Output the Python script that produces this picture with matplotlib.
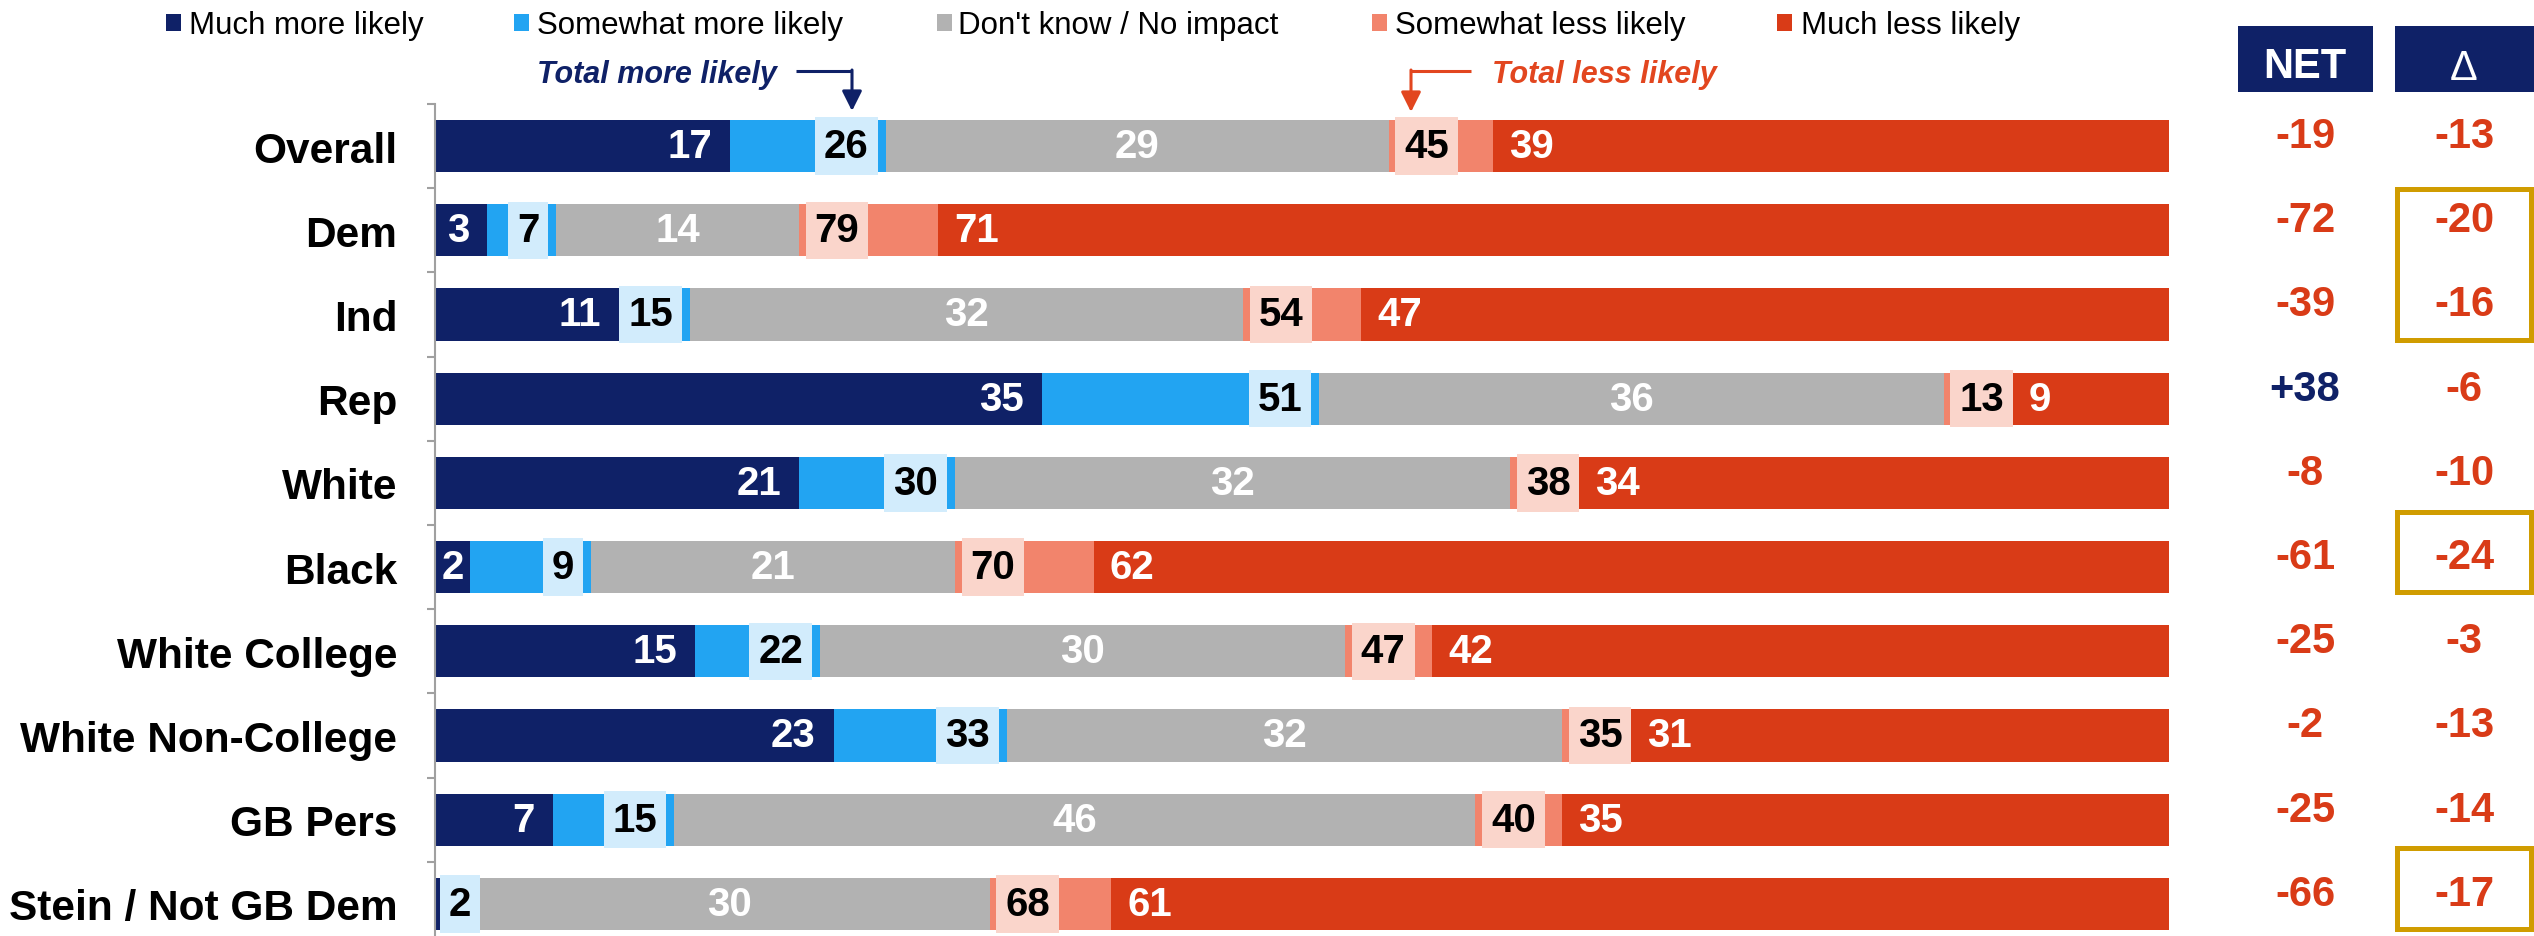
import matplotlib
matplotlib.use("Agg")
import matplotlib.pyplot as plt
from matplotlib.patches import Rectangle, FancyArrowPatch
from matplotlib.transforms import blended_transform_factory
import numpy as np

plt.rcParams['font.family'] = ['Liberation Sans', 'DejaVu Sans']

# ---------------- data ----------------
categories = ["Overall", "Dem", "Ind", "Rep", "White", "Black", "White College",
              "White Non-College", "GB Pers", "Stein / Not GB Dem"]
much_more = [17, 3, 10.6, 35, 21, 2, 15, 23, 6.8, 0.4]
somewhat_more = [9, 4, 4.1, 16, 9, 7, 7.2, 10, 7.0, 1.6]
dont_know = [29, 14, 31.9, 36, 32, 21, 30.3, 32, 46.2, 30]
somewhat_less = [6, 8, 6.8, 4, 4, 8, 5.0, 4, 5.0, 7]
much_less = [39, 71, 46.6, 9, 34, 62, 42.5, 31, 35.0, 61]
total_more = [26, 7, 15, 51, 30, 9, 22, 33, 15, 2]
total_less = [45, 79, 54, 13, 38, 70, 47, 35, 40, 68]
net = [-19, -72, -39, 38, -8, -61, -25, -2, -25, -66]
delta = [-13, -20, -16, -6, -10, -24, -3, -13, -14, -17]
highlight_groups = [(1, 2), (5, 5), (9, 9)]
legend_labels = ["Much more likely", "Somewhat more likely", "Don't know / No impact",
                 "Somewhat less likely", "Much less likely"]

# ---------------- style ----------------
NAVY = '#0F2167'
SKY = '#22A4F2'
GRAY = '#B2B2B2'
SALMON = '#F2846C'
RED = '#D93B17'
BOX_BLUE = '#D2ECFC'
BOX_PINK = '#FAD5CB'
GOLD = '#D09C00'
ANN_RED = '#E2461F'
colors = [NAVY, SKY, GRAY, SALMON, RED]

W, H = 2534, 937
fig = plt.figure(figsize=(W / 100, H / 100), dpi=100)


def fx(px):
    return px / W


def fy(py):
    return 1 - py / H


AX_L, AX_R, AX_T, AX_B = 435, 2169, 105, 947
ax = fig.add_axes([fx(AX_L), fy(AX_B), fx(AX_R) - fx(AX_L), (AX_B - AX_T) / H])
ax.set_xlim(0, 100)
n = len(categories)
ax.set_ylim(n - 0.5, -0.5)
rows = np.arange(n)
PXX = (AX_R - AX_L) / 100.0      # pixels per x unit
PXY = (AX_B - AX_T) / n          # pixels per row

series = [much_more, somewhat_more, dont_know, somewhat_less, much_less]
left = np.zeros(n)
for vals, c in zip(series, colors):
    v = np.array(vals, dtype=float)
    ax.barh(rows, v, left=left, height=0.62, color=c, zorder=2, linewidth=0)
    left += v

mm = np.array(much_more, float)
sm = np.array(somewhat_more, float)
dk = np.array(dont_know, float)
sl = np.array(somewhat_less, float)
ml = np.array(much_less, float)
end_more = mm + sm
start_less = end_more + dk
start_ml = start_less + sl

VFS = 29
em_px = VFS / 72 * 100
PAD = 9
BOX_H = 0.68
for i in range(n):
    # much more label
    if mm[i] >= 1.5:
        seg_px = mm[i] * PXX
        if seg_px < 50:
            ax.text(mm[i] / 2, i, f"{int(round(mm[i]))}", ha='center', va='center',
                    color='white', fontsize=VFS, fontweight='bold', zorder=5)
        else:
            ax.text(mm[i] - 18 / PXX, i, f"{int(round(mm[i]))}", ha='right', va='center',
                    color='white', fontsize=VFS, fontweight='bold', zorder=5)
    # total more box
    s = f"{total_more[i]}"
    w = (len(s) * 0.556 * em_px + 2 * PAD) / PXX
    r = end_more[i] - 8 / PXX
    l = r - w
    if l < 5 / PXX:
        l = 5 / PXX
        r = l + w
    ax.add_patch(Rectangle((l, i - BOX_H / 2), w, BOX_H, facecolor=BOX_BLUE,
                           edgecolor='none', zorder=3))
    ax.text((l + r) / 2, i, s, ha='center', va='center', color='black',
            fontsize=VFS, fontweight='bold', zorder=5)
    # don't know
    ax.text(end_more[i] + dk[i] / 2, i, f"{int(round(dk[i]))}", ha='center', va='center',
            color='white', fontsize=VFS, fontweight='bold', zorder=5)
    # total less box
    s = f"{total_less[i]}"
    w = (len(s) * 0.556 * em_px + 2 * PAD) / PXX
    l = start_less[i] + 6.5 / PXX
    ax.add_patch(Rectangle((l, i - BOX_H / 2), w, BOX_H, facecolor=BOX_PINK,
                           edgecolor='none', zorder=3))
    ax.text(l + w / 2, i, s, ha='center', va='center', color='black',
            fontsize=VFS, fontweight='bold', zorder=5)
    # much less label
    ax.text(start_ml[i] + 16 / PXX, i, f"{int(round(ml[i]))}", ha='left', va='center',
            color='white', fontsize=VFS, fontweight='bold', zorder=5)

# axes styling
for sp in ['top', 'right', 'bottom']:
    ax.spines[sp].set_visible(False)
ax.spines['left'].set_color('#A0A0A0')
ax.spines['left'].set_linewidth(1.5)
ax.set_xticks([])
ax.set_yticks(rows)
ax.set_yticklabels(categories, fontsize=30.5, fontweight='bold')
ax.set_yticks(np.arange(-0.5, n, 1.0), minor=True)
ax.tick_params(axis='y', which='major', length=0, pad=27)
ax.tick_params(axis='y', which='minor', length=6, width=1.5, color='#A0A0A0')
ax.patch.set_visible(False)

# NET / delta columns
tr = blended_transform_factory(fig.transFigure, ax.transData)
NET_X, DEL_X = 2305, 2464
yoff = 10 / PXY
for i in range(n):
    ax.text(fx(NET_X), i - yoff, f"{net[i]:+d}", transform=tr, ha='center', va='center',
            fontsize=30, fontweight='bold', color=NAVY if net[i] > 0 else RED,
            clip_on=False)
    ax.text(fx(DEL_X), i - yoff, f"{delta[i]:d}", transform=tr, ha='center', va='center',
            fontsize=30, fontweight='bold', color=NAVY if delta[i] > 0 else RED,
            clip_on=False)

# highlight boxes
top_pads = [0.49, 0.65, 0.66]
bottom_pad = 0.30
for (a, b), tp in zip(highlight_groups, top_pads):
    y0 = a - tp
    y1 = b + bottom_pad
    ax.add_patch(Rectangle((fx(2397), y0), fx(2531) - fx(2397), y1 - y0, transform=tr,
                           facecolor='none', edgecolor=GOLD, linewidth=3.6,
                           clip_on=False, zorder=6))

# header boxes
fig.add_artist(Rectangle((fx(2238), fy(93)), fx(2373) - fx(2238), (93 - 27) / H,
                         transform=fig.transFigure, facecolor=NAVY, edgecolor='none'))
fig.add_artist(Rectangle((fx(2395), fy(93)), fx(2540) - fx(2395), (93 - 27) / H,
                         transform=fig.transFigure, facecolor=NAVY, edgecolor='none',
                         clip_on=False))
fig.text(fx(2305), fy(67), "NET", ha='center', va='center', color='white',
         fontsize=30, fontweight='bold')
fig.text(fx(2464), fy(69), "Δ", ha='center', va='center', color='white',
         fontsize=30, fontweight='normal')

# legend
sq_x = [166, 514, 937, 1372, 1777]
tx_x = [189, 537, 958, 1395, 1801]
for sx, tx, lab, c in zip(sq_x, tx_x, legend_labels, colors):
    fig.add_artist(Rectangle((fx(sx), fy(32)), 15 / W, 17 / H, transform=fig.transFigure,
                             facecolor=c, edgecolor='none'))
    fig.text(fx(tx), fy(26), lab, ha='left', va='center', fontsize=22.5, color='black')

# annotations
fig.text(fx(777), fy(75), "Total more likely", ha='right', va='center', fontsize=22,
         fontweight='bold', fontstyle='italic', color=NAVY)
fig.text(fx(1492), fy(75), "Total less likely", ha='left', va='center', fontsize=22,
         fontweight='bold', fontstyle='italic', color=ANN_RED)


def elbow(x0, y0, x1, y1, c):
    fig.add_artist(plt.Line2D([fx(x0), fx(x1)], [fy(y0), fy(y0)], transform=fig.transFigure,
                              color=c, linewidth=2.2, solid_capstyle='butt'))
    fig.add_artist(FancyArrowPatch(
        (fx(x1), fy(y0 - 1)), (fx(x1), fy(y1)), transform=fig.transFigure,
        arrowstyle='-|>,head_length=0.6,head_width=0.3', mutation_scale=20,
        color=c, linewidth=2.2, shrinkA=0, shrinkB=0))


elbow(796, 72, 852, 112, NAVY)
elbow(1471, 72, 1411, 113, ANN_RED)

fig.savefig("out.png", dpi=100)
